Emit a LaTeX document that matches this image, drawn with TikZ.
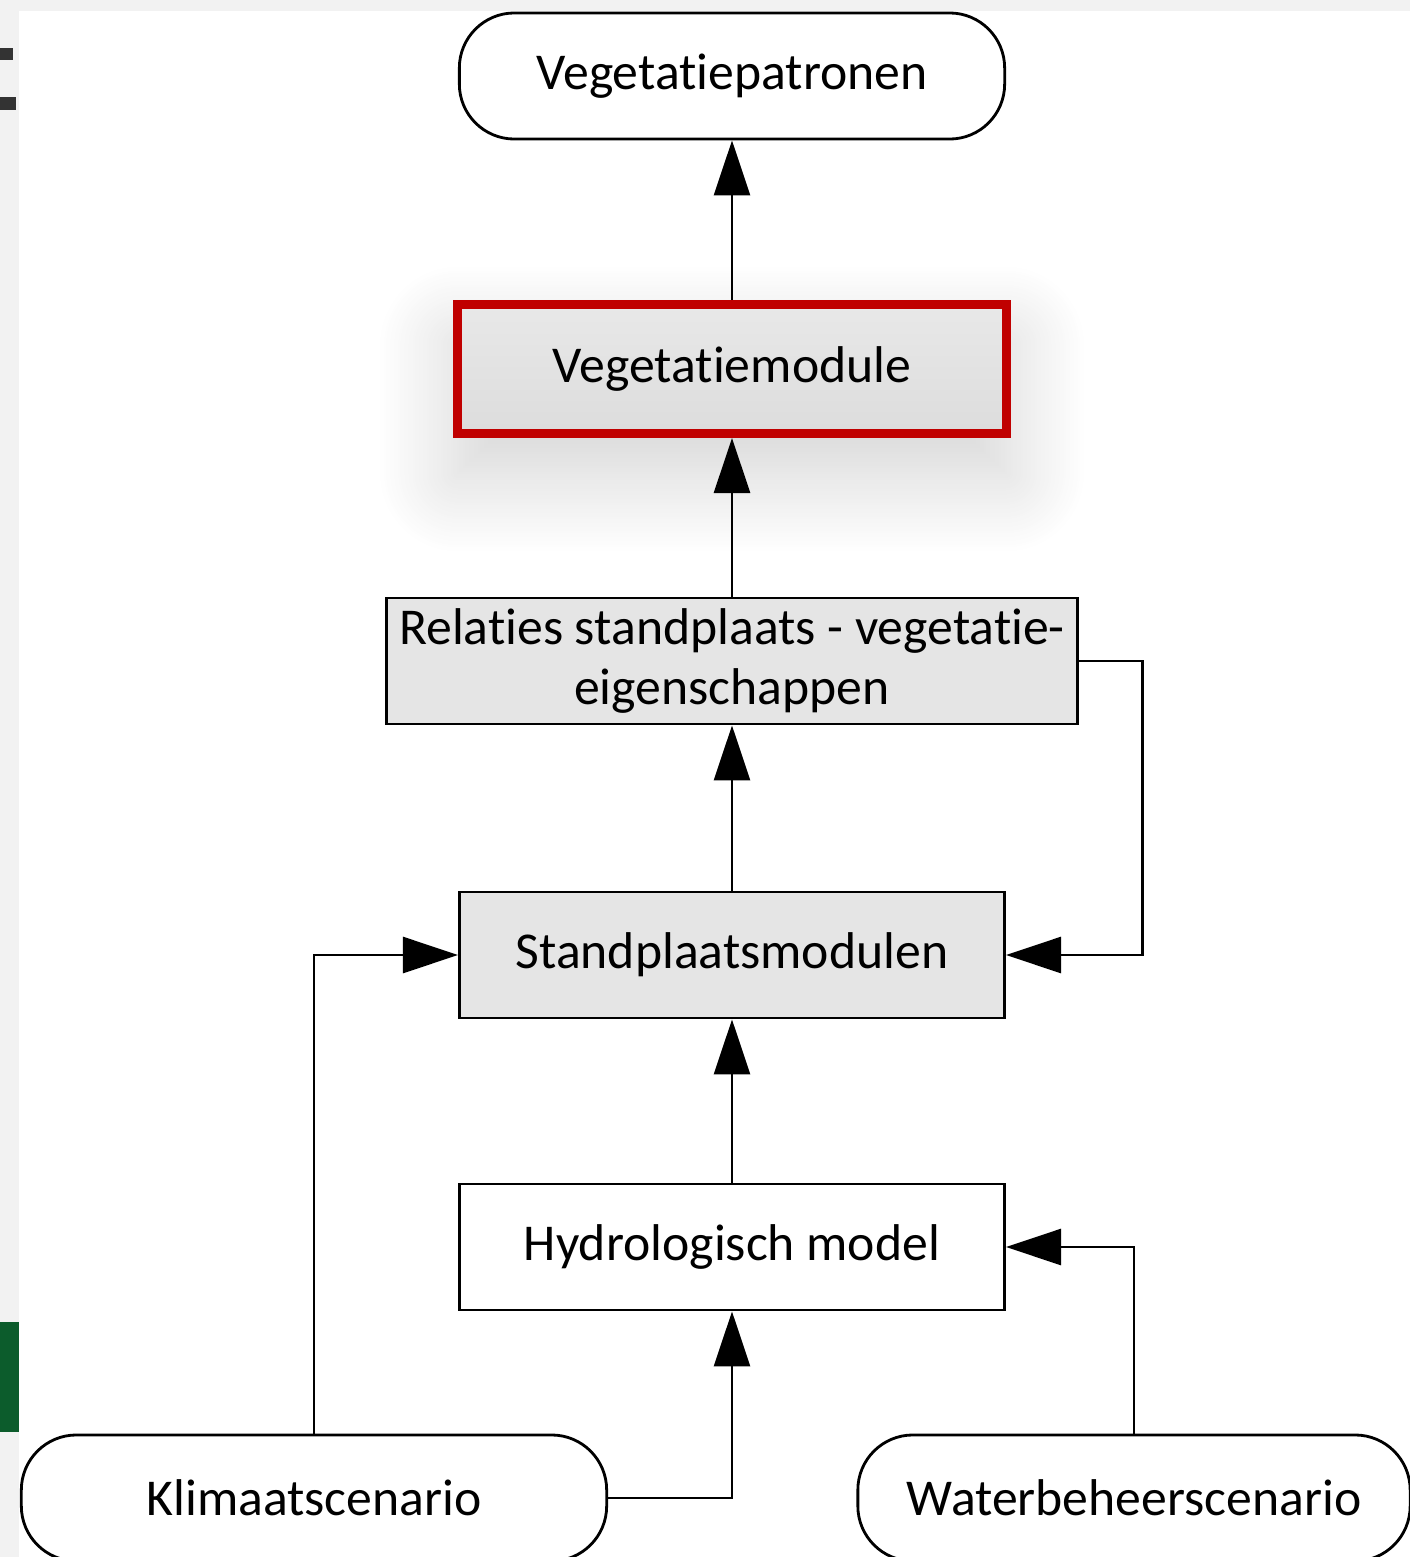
\documentclass[tikz,border=0pt]{standalone}
\usepackage{fontspec}
\setmainfont{Carlito}[RawFeature={-liga;-clig;-dlig;-calt;-hlig}]
\usetikzlibrary{arrows.meta,shadows.blur}

\definecolor{rood}{RGB}{192,0,0}
\definecolor{diagroen}{RGB}{12,92,44}

\tikzset{
  box/.style={draw, line width=0.8pt, minimum width=5.45cm, minimum height=1.26cm,
    inner sep=0pt, align=center, font=\fontsize{14.7}{17}\selectfont},
  grijs/.style={box, fill=gray!20},
  scenario/.style={box, fill=white, rounded corners=0.55cm},
  pijl/.style={-{Triangle[length=0.55cm, width=0.36cm]}, line width=0.8pt},
}

\begin{document}
\begin{tikzpicture}[x=0.01cm, y=-0.01cm]
  \clip (0,0) rectangle (1410,1557);
  % rand van de dia
  \fill[gray!10] (0,0) rectangle (1410,11);
  \fill[gray!10] (0,0) rectangle (19,1557);
  \fill[black!80] (0,48) rectangle (13,60);
  \fill[black!80] (0,97) rectangle (16,110);
  \fill[diagroen] (0,1322) rectangle (19,1432);

  % modules
  \node[scenario] (patronen) at (732,76) {Vegetatiepatronen};
  \node[box, draw=rood, line width=0.09cm, minimum width=5.48cm, minimum height=1.29cm,
    top color=gray!18, bottom color=gray!27,
    blur shadow={shadow xshift=0cm, shadow yshift=-0.4cm, shadow blur radius=0.8cm,
      shadow blur steps=40, shadow opacity=18}]
    (vegmod) at (732,369) {Vegetatiemodule};
  \node[grijs, minimum width=6.91cm] (relaties) at (732,661) {Relaties standplaats - vegetatie-\\eigenschappen};
  \node[grijs] (stand) at (732,955) {Standplaatsmodulen};
  \node[box, fill=white] (hydro) at (732,1247) {Hydrologisch model};
  \node[scenario, minimum width=5.85cm] (klimaat) at (314,1498) {Klimaatscenario};
  \node[scenario, minimum width=5.52cm] (water) at (1134,1498) {Waterbeheerscenario};

  % pijlen
  \draw[pijl] (vegmod.north) -- (patronen.south);
  \draw[pijl] (relaties.north) -- (vegmod.south);
  \draw[pijl] (stand.north) -- (relaties.south);
  \draw[pijl] (hydro.north) -- (stand.south);
  \draw[pijl] (relaties.east) -- ++(63,0) |- (stand.east);
  \draw[pijl] (klimaat.north) |- (stand.west);
  \draw[pijl] (klimaat.east) -| (hydro.south);
  \draw[pijl] (water.north) |- (hydro.east);
\end{tikzpicture}
\end{document}
